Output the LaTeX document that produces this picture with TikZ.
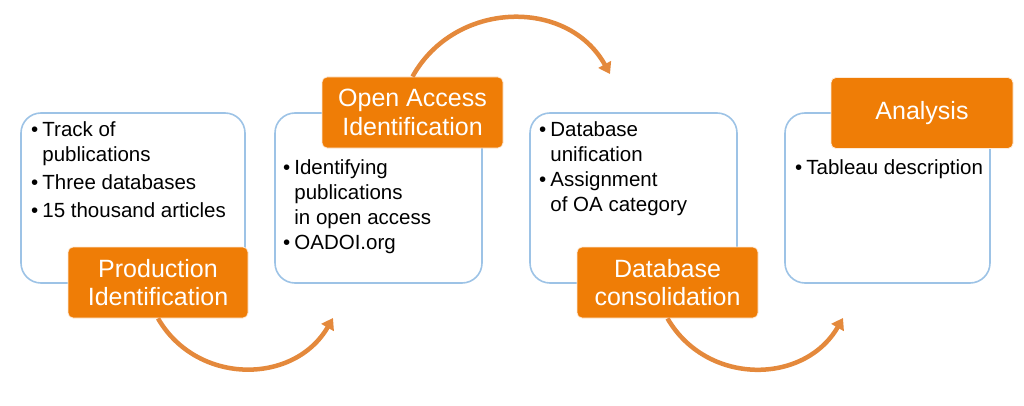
\documentclass[tikz,border=0pt]{standalone}
\usepackage{fontspec}
\setmainfont{Liberation Sans}
\usepackage{xcolor}
\usepackage{tikz}
\usetikzlibrary{shapes,arrows.meta,positioning,calc}
\definecolor{stageorange}{HTML}{EF7D06}
\definecolor{arcorange}{HTML}{E4893C}
\definecolor{boxblue}{HTML}{9DC3E6}
\newcommand{\bul}{\llap{\textbullet\hspace{4pt}}}

\begin{document}
\begin{tikzpicture}[x=1pt, y=1pt,
        box/.style={draw=boxblue, line width=1.6pt, rounded corners=20pt, fill=white},
        stage/.style={fill=stageorange, draw=white!85!stageorange, line width=0.8pt, rounded corners=5pt,
            minimum width=181pt, minimum height=71pt, align=center, text=white,
            font=\fontsize{25}{28.5}\selectfont},
        items/.style={anchor=north west, inner sep=0pt, align=left, font=\fontsize{20.5}{25}\selectfont},
        flow/.style={arcorange, line width=4.5pt, -{Triangle[length=11pt, width=14pt]}}]
        \useasboundingbox (0,0) rectangle (1024,405);

        % Nodes
        \node[box, minimum width=224pt, minimum height=170pt] (B1) at (133,207) {};
        \node[box, minimum width=207pt, minimum height=170pt] (B2) at (378.5,207) {};
        \node[box, minimum width=207pt, minimum height=170pt] (B3) at (633.5,207) {};
        \node[box, minimum width=205pt, minimum height=170pt] (B4) at (887.5,207) {};

        % Labels
        \node[items] (T1) at ($(B1.north west)+(22,-9)$) {\bul Track of\\ publications\\[3pt] \bul Three databases\\[3pt] \bul 15 thousand articles};
        \node[items] (T2) at ($(B2.north west)+(20,-47)$) {\bul Identifying\\ publications\\ in open access\\ \bul OADOI.org};
        \node[items] (T3) at ($(B3.north west)+(21,-9)$) {\bul Database\\ unification\\ \bul Assignment\\ of OA category};
        \node[items] (T4) at ($(B4.north west)+(22,-47)$) {\bul Tableau description};

        \node[stage, minimum width=180pt] (S1) at (158,122.5) {Production\\Identification};
        \node[stage] (S2) at (412.5,292.5) {Open Access\\Identification};
        \node[stage] (S3) at (667.5,122.5) {Database\\consolidation};
        \node[stage, minimum width=182pt] (S4) at (922,292) {Analysis};

        \coordinate (E1) at (333,87);
        \coordinate (E2) at (610,331);
        \coordinate (E3) at (843,87);

        % Edges
        \draw[flow] (S1.south) to[out=-60, in=-120, looseness=1.13] (E1);
        \draw[flow] (S2.north) to[out=61, in=119, looseness=1.13] (E2);
        \draw[flow] (S3.south) to[out=-60, in=-120, looseness=1.13] (E3);
\end{tikzpicture}
\end{document}
